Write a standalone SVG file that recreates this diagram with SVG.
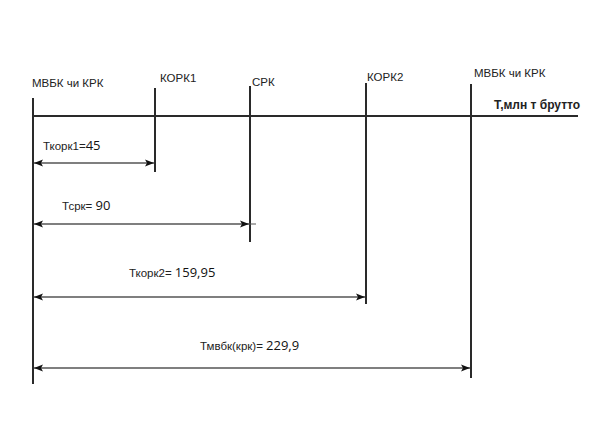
<svg xmlns="http://www.w3.org/2000/svg" width="591" height="435" viewBox="0 0 591 435">
<style>
.ln{stroke:#2a2a2a;stroke-width:2;fill:none}
.ar{stroke:#555;stroke-width:1.5;fill:none;marker-start:url(#ah);marker-end:url(#ah)}
.t{font-family:"Liberation Sans",Arial,sans-serif;font-size:11.5px;fill:#222}
.tb{font-family:"Liberation Sans",Arial,sans-serif;font-size:12px;font-weight:bold;fill:#222}
.n{font-family:"Open Sans","Liberation Sans",sans-serif;font-size:13px;fill:#111}
</style>
<defs>
<marker id="ah" markerWidth="10" markerHeight="8" refX="9" refY="4" orient="auto-start-reverse" markerUnits="userSpaceOnUse">
<path d="M0,0.5 L9,4 L0,7.5 L2,4 Z" fill="#111"/>
</marker>
</defs>
<rect width="591" height="435" fill="#fff"/>
<g id="axis">
<line class="ln" x1="33" y1="116" x2="578" y2="116"/>
<text class="tb" x="494" y="109">Т,млн т брутто</text>
</g>
<g id="mvbk1">
<line class="ln" x1="33" y1="98" x2="33" y2="384"/>
<text class="t" x="32" y="87">МВБК чи КРК</text>
</g>
<g id="kork1">
<line class="ln" x1="155" y1="88" x2="155" y2="172"/>
<text class="t" x="160" y="82">КОРК1</text>
</g>
<g id="srk">
<line class="ln" x1="250" y1="86" x2="250" y2="242"/>
<text class="t" x="252" y="86">СРК</text>
</g>
<g id="kork2">
<line class="ln" x1="366" y1="83" x2="366" y2="304"/>
<text class="t" x="367" y="81">КОРК2</text>
</g>
<g id="mvbk2">
<line class="ln" x1="471" y1="84" x2="471" y2="378"/>
<text class="t" x="474" y="77">МВБК чи КРК</text>
</g>
<g id="connectors">
<line class="ar" x1="34" y1="163" x2="154" y2="163"/>
<line class="ar" x1="34" y1="224" x2="249" y2="224"/>
<line stroke="#555" stroke-width="1" x1="249" y1="224" x2="256" y2="224"/>
<line class="ar" x1="34" y1="297" x2="365" y2="297"/>
<line class="ar" x1="34" y1="368" x2="470" y2="368"/>
</g>
<g id="labels">
<text x="43" y="150"><tspan class="t">Ткорк1=</tspan><tspan class="n">45</tspan></text>
<text x="62" y="210"><tspan class="t">Тсрк= </tspan><tspan class="n">90</tspan></text>
<text x="129" y="277"><tspan class="t">Ткорк2= </tspan><tspan class="n">159,95</tspan></text>
<text x="200" y="350"><tspan class="t">Тмвбк(крк)= </tspan><tspan class="n">229,9</tspan></text>
</g>
</svg>
